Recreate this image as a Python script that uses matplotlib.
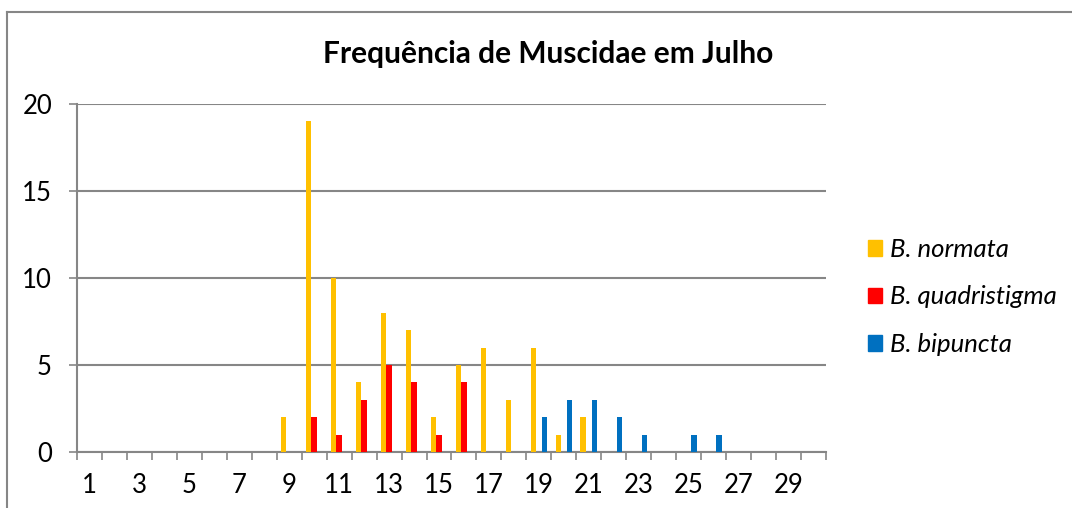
import numpy as np
import matplotlib
matplotlib.use("Agg")
import matplotlib.pyplot as plt
from matplotlib.lines import Line2D

# Data (days 1..30)
days = list(range(1, 31))
normata = [0, 0, 0, 0, 0, 0, 0, 0, 2, 19, 10, 4, 8, 7, 2, 5, 6, 3, 6, 1, 2, 0, 0, 0, 0, 0, 0, 0, 0, 0]
quadristigma = [0, 0, 0, 0, 0, 0, 0, 0, 0, 2, 1, 3, 5, 4, 1, 4, 0, 0, 0, 0, 0, 0, 0, 0, 0, 0, 0, 0, 0, 0]
bipuncta = [0, 0, 0, 0, 0, 0, 0, 0, 0, 0, 0, 0, 0, 0, 0, 0, 0, 0, 2, 3, 3, 2, 1, 0, 1, 1, 0, 0, 0, 0]
series_names = ["B. normata", "B. quadristigma", "B. bipuncta"]
colors = ["#FFC000", "#FF0000", "#0070C0"]
title = "Frequência de Muscidae em Julho"

plt.rcParams["font.family"] = ["Lato", "DejaVu Sans"]
grey = "#868686"

fig = plt.figure(figsize=(10.72, 5.08), dpi=100)
ax = fig.add_axes([77 / 1072, 1 - 452 / 508, 749 / 1072, 348 / 508])

x = np.array(days)
w = 1 / 4.5
for i, (vals, c, name) in enumerate(zip([normata, quadristigma, bipuncta], colors, series_names)):
    ax.bar(x + (i - 1) * w, vals, width=w, color=c, label=name, zorder=3)

ax.set_xlim(0.5, 30.5)
ax.set_ylim(0, 20)

# y axis
ax.set_yticks([0, 5, 10, 15, 20])
ax.yaxis.grid(True, color=grey, linewidth=1.5, zorder=0)
ax.tick_params(axis="y", length=6, width=1.2, color=grey, pad=12, labelsize=18.5)

# x axis: ticks at category borders, labels on odd days
ax.set_xticks(np.arange(0.5, 31, 1))
ax.set_xticklabels([])
ax.set_xticks(days[::2], minor=True)
ax.set_xticklabels([str(d) for d in days[::2]], minor=True)
ax.tick_params(axis="x", which="major", length=6, width=1.2, color=grey)
ax.tick_params(axis="x", which="minor", length=0, pad=15, labelsize=18.5)

for s in ["top", "right"]:
    ax.spines[s].set_visible(False)
for s in ["left", "bottom"]:
    ax.spines[s].set_color(grey)
    ax.spines[s].set_linewidth(1.5)

fig.text(548 / 1072, 1 - 54 / 508, title, ha="center", va="center",
         fontsize=21.5, fontweight="bold")

handles = [plt.Rectangle((0, 0), 1, 1, color=c) for c in colors]
fig.legend(handles, series_names, loc="center left",
           bbox_to_anchor=(845 / 1072, 1 - 297 / 508),
           frameon=False, prop={"style": "italic", "size": 18.5},
           handlelength=0.55, handleheight=0.55, handletextpad=0.3,
           labelspacing=0.95)

# outer chart border (cropped)
fig.add_artist(Line2D([7 / 1072, 7 / 1072], [0, 1 - 12 / 508], color=grey, linewidth=1.5))
fig.add_artist(Line2D([7 / 1072, 1], [1 - 12 / 508, 1 - 12 / 508], color=grey, linewidth=1.5))

fig.savefig("out.png", dpi=100)
